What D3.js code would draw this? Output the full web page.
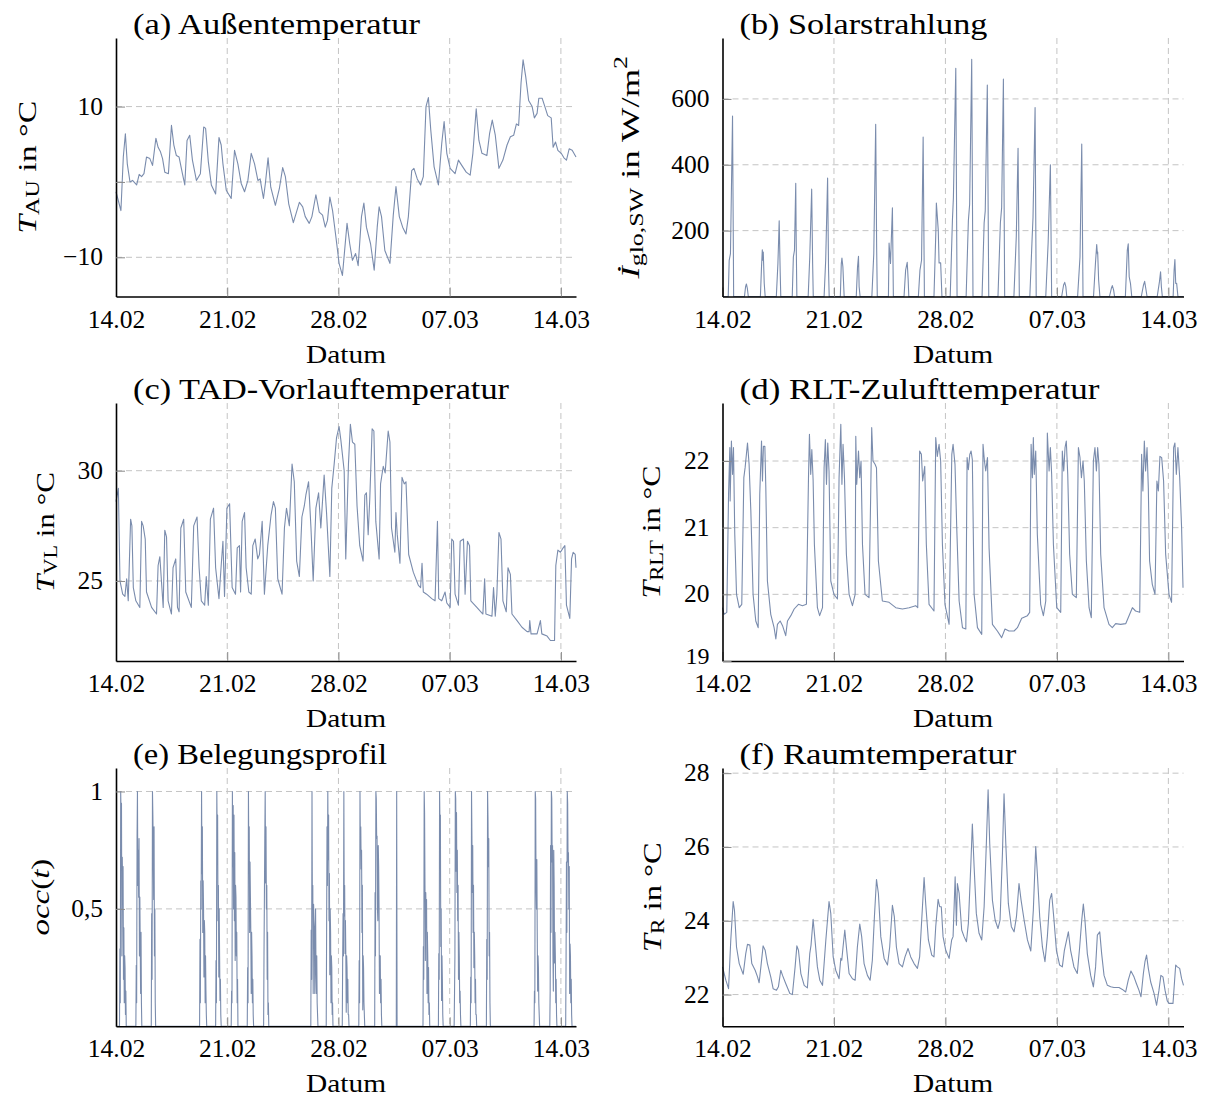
<!DOCTYPE html>
<html><head><meta charset="utf-8">
<script src="https://cdn.jsdelivr.net/npm/d3@7"></script>
<style>
body{margin:0;background:#fff}
text{font-family:"Liberation Serif","Times New Roman",serif;fill:#000}
</style>
</head><body>
<svg id="chart" width="1208" height="1097"></svg>
<script>
// ---------------- data (day offset from 14.02 00:00, value) ----------------
const dateTicks = [0, 7, 14, 21, 28];
const dateLabels = ["14.02", "21.02", "28.02", "07.03", "14.03"];
const xDomain = [0, 28.95];

const tempOutside = [[0,-1.3],[0.31,-3.8],[0.46,3.3],[0.59,6.4],[0.71,2.4],[0.88,0],[1.04,0.2],[1.3,-0.4],[1.46,1.0],[1.61,0.7],[1.76,1.1],[1.92,3.3],[2.13,3.1],[2.3,2.2],[2.51,5.8],[2.65,4.6],[2.8,4.0],[2.93,3.1],[3.07,1.3],[3.3,1.1],[3.49,7.5],[3.64,4.9],[3.8,3.5],[3.97,3.3],[4.18,1.1],[4.33,-0.4],[4.47,5.5],[4.64,6.2],[4.81,2.9],[5.06,0.2],[5.31,1.1],[5.52,7.3],[5.64,7.1],[5.81,2.7],[6.0,-0.4],[6.27,-1.6],[6.48,5.9],[6.62,4.9],[6.73,2.4],[6.94,-1.1],[7.25,-2.2],[7.46,4.2],[7.67,2.4],[7.88,-0.2],[8.09,-1.3],[8.3,0.2],[8.51,3.8],[8.72,2.4],[8.93,0.2],[9.07,0.4],[9.28,-2.2],[9.4,-0.2],[9.57,3.2],[9.74,-0.7],[10.03,-3.1],[10.28,-0.9],[10.49,1.9],[10.66,0.7],[10.87,-2.9],[11.16,-5.4],[11.33,-4.2],[11.54,-2.7],[11.75,-3.3],[11.91,-4.6],[12.16,-5.5],[12.33,-4.6],[12.58,-1.7],[12.79,-4.0],[13.0,-4.4],[13.17,-6.0],[13.31,-5.1],[13.46,-2.0],[13.63,-3.8],[13.84,-7.3],[14.04,-10.8],[14.25,-12.4],[14.54,-5.5],[14.71,-8.2],[14.88,-10.4],[15.08,-9.5],[15.24,-11.1],[15.45,-4.6],[15.6,-2.8],[15.76,-6.0],[16.02,-8.2],[16.25,-11.7],[16.44,-6.0],[16.56,-3.3],[16.71,-4.6],[16.92,-9.1],[17.24,-10.8],[17.45,-4.4],[17.62,-0.6],[17.83,-4.6],[18.04,-6.0],[18.25,-6.9],[18.4,-4.6],[18.61,1.5],[18.75,1.8],[18.96,0.4],[19.17,-0.4],[19.34,0.7],[19.51,10.0],[19.66,11.2],[19.81,6.9],[20.02,2.0],[20.29,-0.4],[20.5,5.1],[20.65,8.0],[20.82,3.8],[21.03,1.8],[21.34,1.1],[21.55,2.9],[21.76,2.2],[22.04,1.3],[22.29,0.9],[22.46,3.8],[22.67,9.7],[22.84,5.5],[23.03,3.8],[23.34,3.5],[23.51,6.4],[23.68,8.2],[23.87,6.2],[24.1,1.8],[24.35,2.9],[24.61,4.9],[24.82,6.0],[25.03,6.2],[25.2,7.7],[25.34,7.5],[25.49,13.1],[25.62,16.2],[25.79,13.9],[25.97,10.8],[26.19,10.0],[26.33,8.5],[26.5,9.1],[26.61,11.1],[26.82,11.1],[26.96,10.2],[27.17,8.8],[27.39,8.5],[27.51,4.6],[27.66,5.3],[27.81,4.2],[28.02,3.8],[28.19,3.2],[28.35,2.9],[28.52,4.4],[28.71,4.2],[28.95,3.3]];

const solarRadiation = [[0,0],[0.36,0],[0.42,110],[0.5,130],[0.63,548],[0.7,0],[1.38,0],[1.45,30],[1.5,38],[1.56,25],[1.62,0],[2.38,0],[2.45,90],[2.5,142],[2.53,110],[2.56,135],[2.62,40],[2.68,0],[3.38,0],[3.48,100],[3.56,230],[3.62,80],[3.66,0],[4.38,0],[4.45,120],[4.52,140],[4.6,344],[4.63,160],[4.67,0],[5.38,0],[5.48,120],[5.6,326],[5.66,100],[5.7,0],[6.38,0],[6.48,110],[6.6,360],[6.66,80],[6.7,0],[7.4,0],[7.46,100],[7.5,117],[7.56,90],[7.64,0],[8.4,0],[8.48,90],[8.54,122],[8.58,30],[8.64,0],[9.38,0],[9.5,130],[9.62,523],[9.68,150],[9.72,0],[10.42,0],[10.46,162],[10.55,100],[10.67,269],[10.73,0],[11.4,0],[11.5,80],[11.6,104],[11.66,50],[11.7,0],[12.3,0],[12.4,80],[12.5,110],[12.6,484],[12.68,0],[13.28,0],[13.4,200],[13.43,284],[13.49,243],[13.55,200],[13.6,102],[13.7,102],[13.78,0],[14.3,0],[14.44,233],[14.5,300],[14.65,693],[14.73,0],[15.3,0],[15.44,230],[15.52,280],[15.65,720],[15.73,0],[16.3,0],[16.43,223],[16.5,260],[16.63,642],[16.72,0],[17.3,0],[17.45,223],[17.53,270],[17.64,660],[17.72,0],[18.3,0],[18.45,183],[18.56,450],[18.64,0],[19.3,0],[19.44,172],[19.5,240],[19.63,574],[19.7,0],[20.3,0],[20.45,163],[20.59,400],[20.67,0],[21.3,0],[21.42,35],[21.49,43],[21.56,30],[21.62,0],[22.3,0],[22.45,120],[22.56,463],[22.64,0],[23.3,0],[23.42,100],[23.5,158],[23.54,130],[23.56,135],[23.62,50],[23.7,0],[24.3,0],[24.42,25],[24.48,33],[24.56,20],[24.62,0],[25.3,0],[25.42,140],[25.48,160],[25.54,60],[25.62,40],[25.7,0],[26.3,0],[26.44,35],[26.51,46],[26.58,25],[26.66,0],[27.3,0],[27.44,45],[27.51,75],[27.56,30],[27.62,0],[28.3,0],[28.36,80],[28.41,112],[28.46,40],[28.52,40],[28.6,0],[28.95,0]];

const supplyTempTAD = [[0,28.6],[0.15,29.2],[0.25,25.0],[0.42,24.4],[0.56,24.3],[0.67,25.1],[0.77,24.1],[0.92,27.8],[1.0,27.5],[1.09,24.7],[1.25,24.1],[1.5,23.8],[1.61,27.7],[1.71,27.5],[1.84,26.9],[1.92,24.5],[2.24,23.8],[2.55,23.5],[2.65,25.7],[2.76,26.1],[2.86,25.0],[2.97,23.8],[3.07,27.3],[3.18,27.0],[3.28,24.1],[3.49,23.5],[3.59,25.6],[3.76,26.0],[3.87,23.8],[3.97,23.6],[4.08,27.4],[4.26,27.8],[4.39,24.5],[4.74,23.8],[4.89,27.5],[5.1,27.9],[5.23,25.6],[5.37,24.1],[5.58,23.9],[5.68,25.2],[5.81,23.9],[5.94,27.8],[6.14,28.3],[6.27,25.6],[6.48,24.2],[6.62,25.7],[6.73,26.8],[6.83,24.3],[6.98,28.3],[7.15,28.5],[7.31,24.7],[7.52,24.4],[7.63,26.5],[7.77,26.6],[7.84,24.5],[7.94,27.7],[8.09,28.1],[8.19,25.6],[8.36,24.5],[8.51,24.4],[8.61,26.6],[8.76,26.9],[8.92,26.0],[9.03,26.2],[9.2,27.7],[9.34,24.4],[9.55,26.6],[9.76,28.0],[9.91,28.6],[10.03,28.3],[10.18,25.1],[10.45,24.4],[10.6,27.4],[10.73,28.3],[10.91,27.5],[11.08,30.3],[11.22,29.5],[11.37,25.9],[11.54,25.2],[11.7,27.9],[11.85,28.4],[11.95,28.9],[12.12,29.5],[12.27,27.4],[12.41,25.0],[12.58,28.3],[12.75,29.0],[12.89,27.4],[13.1,29.8],[13.25,28.1],[13.46,25.2],[13.58,29.2],[13.73,30.3],[13.88,31.5],[14.04,32.0],[14.15,31.4],[14.36,30.0],[14.46,26.0],[14.63,30.3],[14.75,32.1],[14.88,31.3],[15.03,31.2],[15.17,28.4],[15.34,26.6],[15.55,25.9],[15.66,28.9],[15.76,29.0],[15.87,27.1],[15.97,28.7],[16.12,31.9],[16.23,31.8],[16.35,27.7],[16.56,26.0],[16.65,29.4],[16.82,30.2],[16.94,29.9],[17.13,31.8],[17.24,31.3],[17.34,27.4],[17.55,26.3],[17.62,28.1],[17.7,27.1],[17.87,25.8],[18.0,29.7],[18.14,29.4],[18.25,29.5],[18.42,26.2],[18.71,25.4],[19.03,24.8],[19.17,24.7],[19.26,25.8],[19.34,24.5],[19.55,24.4],[19.87,24.2],[20.08,24.1],[20.23,27.7],[20.31,24.2],[20.5,24.1],[20.71,24.5],[20.82,24.0],[21.03,23.8],[21.13,26.9],[21.24,26.8],[21.34,24.4],[21.55,23.9],[21.66,26.8],[21.87,26.9],[21.97,24.4],[22.12,26.8],[22.25,26.6],[22.33,24.1],[22.71,23.8],[23.09,23.5],[23.2,25.1],[23.28,23.5],[23.66,23.4],[23.76,24.7],[23.87,23.4],[23.97,24.4],[24.1,27.2],[24.23,26.9],[24.35,24.1],[24.56,23.6],[24.67,25.6],[24.82,25.3],[24.92,23.5],[25.24,23.2],[25.55,22.9],[25.87,22.7],[26.0,22.7],[26.04,23.2],[26.12,22.6],[26.5,22.6],[26.71,23.2],[26.8,22.6],[27.13,22.5],[27.34,22.3],[27.6,22.3],[27.68,25.7],[27.81,26.4],[27.97,26.3],[28.14,26.5],[28.25,26.6],[28.35,23.9],[28.56,23.3],[28.67,26.0],[28.77,26.3],[28.9,26.2],[28.95,25.6]];

const supplyTempRLT = [[0,19.8],[0.1,19.7],[0.27,19.73],[0.38,21.5],[0.46,22.2],[0.48,21.4],[0.56,22.3],[0.63,21.8],[0.69,22.2],[0.77,20.9],[0.88,20.0],[1.05,19.8],[1.21,19.85],[1.34,21.75],[1.42,21.9],[1.57,22.27],[1.67,21.95],[1.78,21.25],[1.92,20.0],[2.09,19.6],[2.24,19.5],[2.34,21.5],[2.45,22.3],[2.51,21.7],[2.57,22.22],[2.66,22.22],[2.72,21.6],[2.82,20.2],[3.03,19.7],[3.24,19.5],[3.35,19.33],[3.45,19.55],[3.62,19.6],[3.77,19.53],[3.97,19.38],[4.08,19.6],[4.29,19.68],[4.5,19.78],[4.77,19.85],[5.02,19.83],[5.27,19.85],[5.4,21.75],[5.46,22.4],[5.54,21.8],[5.61,22.17],[5.69,21.72],[5.77,20.75],[5.96,19.8],[6.1,19.68],[6.28,19.8],[6.38,21.9],[6.46,22.32],[6.53,21.65],[6.61,22.27],[6.69,21.85],[6.8,20.2],[7.0,20.0],[7.22,19.93],[7.32,21.75],[7.43,22.55],[7.5,21.65],[7.57,22.25],[7.66,21.75],[7.78,20.6],[7.95,20.0],[8.16,19.83],[8.33,20.0],[8.37,22.37],[8.43,21.65],[8.54,22.15],[8.62,21.75],[8.7,22.0],[8.79,20.75],[8.95,20.0],[9.2,19.95],[9.31,21.55],[9.37,22.5],[9.45,22.0],[9.58,21.95],[9.67,21.9],[9.79,20.5],[10.04,19.9],[10.46,19.88],[10.88,19.8],[11.3,19.78],[11.72,19.8],[12.13,19.83],[12.26,19.8],[12.38,22.15],[12.49,22.1],[12.57,21.7],[12.7,21.92],[12.8,20.75],[12.97,19.85],[13.28,19.75],[13.39,22.35],[13.49,22.07],[13.6,22.25],[13.7,22.0],[13.81,20.75],[13.97,19.85],[14.23,19.55],[14.4,22.1],[14.48,22.25],[14.6,21.95],[14.71,21.0],[14.86,19.9],[15.07,19.5],[15.28,19.48],[15.36,22.05],[15.44,21.87],[15.53,22.1],[15.61,22.15],[15.69,22.02],[15.8,20.0],[16.01,19.5],[16.28,19.4],[16.36,22.25],[16.45,22.0],[16.53,21.85],[16.64,22.05],[16.74,20.7],[16.95,19.55],[17.26,19.45],[17.53,19.35],[17.74,19.48],[17.99,19.45],[18.31,19.45],[18.52,19.5],[18.79,19.64],[19.15,19.68],[19.29,19.73],[19.38,22.25],[19.46,21.75],[19.52,22.35],[19.58,21.8],[19.67,22.15],[19.77,20.9],[19.98,19.85],[20.15,19.68],[20.3,19.9],[20.4,22.42],[20.51,21.85],[20.59,22.2],[20.67,21.8],[20.78,20.75],[20.99,19.8],[21.24,19.73],[21.34,22.15],[21.43,21.85],[21.51,22.2],[21.59,22.3],[21.68,21.8],[21.8,20.6],[21.97,20.0],[22.22,19.95],[22.35,22.2],[22.45,22.05],[22.54,21.75],[22.64,22.0],[22.72,21.7],[22.85,20.5],[23.02,19.8],[23.16,19.65],[23.29,22.0],[23.39,22.2],[23.48,21.85],[23.56,22.2],[23.64,21.95],[23.75,20.6],[23.96,19.8],[24.27,19.55],[24.48,19.5],[24.69,19.56],[25.0,19.55],[25.32,19.56],[25.53,19.68],[25.74,19.8],[25.94,19.75],[26.2,19.73],[26.32,22.1],[26.4,21.55],[26.49,22.3],[26.57,21.85],[26.66,22.2],[26.74,21.6],[26.82,20.5],[26.99,20.15],[27.16,20.0],[27.28,21.7],[27.37,21.55],[27.47,22.07],[27.58,22.05],[27.7,21.7],[27.83,20.6],[28.04,20.0],[28.2,19.88],[28.33,22.2],[28.41,22.27],[28.5,21.8],[28.6,22.2],[28.71,21.75],[28.83,21.0],[28.92,20.1]];

// occupancy: start day of each occupied block and the values read within it (sampled every occStep days)
const occStep = 0.025;
const occStarts = [0.22, 1.25, 2.22, 5.26, 6.27, 7.25, 8.26, 9.29, 12.26, 13.23, 14.24, 15.28, 16.28, 17.64, 19.32, 20.29, 21.28, 22.3, 23.31, 26.31, 27.3, 28.3];
const occValues = [
  [0,0.33,0.1,1,0.9,0.95,0.3,0.72,0.55,0.68,0.2,0.42,0.1,0.3,0.25,0.05,0.15,0],
  [0,0.26,0.1,0.8,1,0.6,0.75,0.55,0.8,0.3,0.55,0.35,0.14,0.4,0.1,0],
  [0,0.48,0.2,1,0.9,0.75,0.54,0.85,0.3,0.5,0.1,0],
  [0,0.37,0.1,0.62,0.5,1,0.65,0.85,0.4,0.62,0.5,0.21,0.45,0.4,0.1,0.3,0.15,0.05,0],
  [0,0.28,0.1,1,0.78,0.9,0.45,0.6,0.21,0.5,0.3,0.11,0.2,0.05,0],
  [0,0.15,0.1,1,0.68,0.94,0.5,0.9,0.45,0.74,0.28,0.6,0.55,0.3,0.4,0.1,0.2,0],
  [0,0.25,0.1,1,0.71,0.85,0.4,0.7,0.55,0.4,0.14,0.4,0.3,0.1,0.2,0.05,0],
  [0,0.31,0.55,0.8,1,0.61,0.85,0.5,0.6,0.2,0.4,0.05,0.1,0],
  [0,0.41,0.2,1,0.5,0.6,0.14,0.52,0.45,0.42,0.14,0.3,0.5,0.25,0.14,0.3,0.1,0.05,0,0],
  [0,0.4,0.85,0.6,1,0.71,0.9,0.45,0.65,0.22,0.5,0.4,0.1,0.3,0.25,0.05,0.1,0,0],
  [0,0.28,0.48,0.3,1,0.47,0.6,0.31,0.45,0.3,0.06,0.3,0.25,0.1,0.2,0.05,0.05,0,0],
  [0,0.28,0.1,1,0.78,0.85,0.67,0.75,0.4,0.6,0.07,0.3,0.25,0.1,0.05,0,0],
  [0,0.57,0.3,1,0.97,0.8,0.81,0.5,0.45,0.77,0.68,0.5,0.14,0.3,0.3,0.1,0.2,0.05,0,0,0],
  [0,1,0],
  [0,0.34,0.2,1,0.91,0.6,0.28,0.57,0.45,0.54,0.14,0.4,0.3,0.1,0.25,0.05,0.1,0,0,0],
  [0,0.31,0.2,1,0.85,0.9,0.34,0.5,0.11,0.3,0.2,0.05,0],
  [0,0.14,0.3,1,0.97,0.66,0.91,0.57,0.75,0.45,0.6,0.2,0.4,0.3,0.1,0.15,0.05,0,0],
  [0,0.21,0.1,1,0.81,0.57,0.77,0.4,0.6,0.25,0.4,0.3,0.1,0.2,0.05,0.05,0],
  [0,0.37,0.2,1,0.89,0.68,0.8,0.3,0.4,0.1,0],
  [0,0.15,0.1,1,0.97,0.6,0.5,0.71,0.4,0.15,0.3,0.25,0.1,0.05,0,0],
  [0,0.15,0.77,0.4,1,0.97,0.7,0.77,0.3,0.15,0.75,0.6,0.27,0.4,0.3,0.1,0.2,0.05,0,0,0],
  [0,0.28,0.7,0.4,1,0.95,0.7,0.74,0.5,0.68,0.14,0.35,0.3,0.1,0.2,0.05,0,0]
];

const roomTemp = [[0,22.75],[0.21,22.39],[0.38,22.16],[0.52,23.48],[0.67,24.52],[0.75,24.29],[0.88,23.29],[1.05,22.84],[1.3,22.55],[1.46,23.11],[1.57,23.36],[1.72,23.34],[1.84,22.84],[2.05,22.66],[2.2,22.48],[2.3,22.32],[2.41,22.75],[2.55,23.32],[2.68,23.2],[2.82,22.84],[3.03,22.48],[3.18,22.16],[3.39,22.12],[3.51,22.21],[3.66,22.66],[3.77,22.52],[3.97,22.3],[4.23,22.03],[4.39,22.0],[4.56,22.75],[4.67,23.32],[4.77,23.2],[4.92,22.57],[5.13,22.25],[5.33,22.18],[5.48,23.11],[5.56,23.34],[5.69,24.04],[5.79,23.57],[5.96,22.75],[6.11,22.39],[6.28,22.25],[6.49,23.48],[6.69,24.52],[6.8,24.2],[6.95,23.02],[7.11,22.66],[7.32,22.43],[7.43,22.98],[7.49,22.93],[7.57,23.29],[7.68,23.75],[7.78,23.29],[7.95,22.57],[8.16,22.43],[8.33,22.39],[8.47,23.29],[8.62,23.91],[8.74,23.57],[8.89,22.84],[9.1,22.52],[9.27,22.39],[9.41,22.93],[9.54,24.11],[9.67,25.12],[9.79,24.74],[9.94,23.57],[10.15,22.98],[10.36,22.8],[10.5,23.29],[10.67,24.42],[10.79,24.11],[10.92,23.29],[11.09,22.84],[11.3,22.75],[11.46,23.02],[11.65,23.25],[11.82,23.02],[12.03,22.84],[12.24,22.71],[12.38,23.02],[12.51,24.02],[12.66,25.17],[12.76,24.47],[12.93,23.48],[13.14,23.07],[13.28,23.02],[13.39,23.84],[13.54,24.58],[13.64,24.38],[13.74,24.38],[13.85,23.57],[14.02,23.2],[14.23,22.98],[14.39,23.48],[14.48,23.57],[14.61,25.19],[14.69,23.88],[14.75,25.01],[14.86,24.74],[15.02,23.75],[15.17,23.57],[15.32,23.43],[15.44,23.93],[15.59,25.47],[15.69,26.62],[15.8,25.47],[15.94,24.2],[16.11,23.66],[16.28,23.48],[16.43,24.38],[16.57,26.1],[16.68,27.55],[16.78,26.1],[16.95,24.56],[17.12,24.02],[17.3,23.79],[17.43,24.02],[17.58,25.83],[17.68,27.44],[17.79,26.1],[17.95,24.47],[18.14,23.84],[18.31,23.7],[18.46,24.11],[18.62,25.01],[18.75,24.56],[18.94,24.02],[19.15,23.48],[19.36,23.18],[19.52,24.29],[19.67,26.01],[19.77,25.29],[19.92,24.11],[20.09,23.29],[20.25,22.89],[20.4,23.57],[20.55,24.56],[20.67,24.74],[20.8,24.11],[20.97,23.2],[21.17,22.8],[21.34,22.75],[21.47,23.2],[21.72,23.7],[21.86,23.2],[22.07,22.75],[22.28,22.57],[22.43,23.29],[22.56,24.02],[22.66,24.45],[22.76,24.02],[22.91,23.11],[23.12,22.52],[23.29,22.21],[23.43,22.75],[23.54,23.61],[23.69,23.7],[23.81,23.11],[23.96,22.52],[24.17,22.25],[24.38,22.21],[24.58,22.19],[24.9,22.19],[25.11,22.14],[25.32,22.07],[25.48,22.39],[25.65,22.64],[25.84,22.48],[25.99,22.3],[26.15,22.12],[26.28,21.94],[26.43,22.57],[26.53,22.89],[26.63,23.07],[26.74,22.71],[26.89,22.34],[27.1,22.03],[27.26,21.71],[27.41,22.12],[27.53,22.52],[27.66,22.48],[27.79,22.12],[27.93,21.83],[28.04,21.76],[28.29,21.76],[28.46,22.8],[28.56,22.75],[28.71,22.71],[28.83,22.43],[28.95,22.25]];

// build the occupancy series (zero outside the occupied blocks)
const occupancy = [[0, 0]];
occStarts.forEach((s, b) => occValues[b].forEach((v, i) => occupancy.push([s + i * occStep, v])));
occupancy.push([xDomain[1], 0]);

// axis tick values / labels per panel
const gridA = [-10, 0, 10], ticksA = [-10, 0, 10], labelsA = ["\u221210", "", "10"];
const gridB = [200, 400, 600], ticksB = [200, 400, 600], labelsB = ["200", "400", "600"];
const gridC = [25, 30], ticksC = [25, 30], labelsC = ["25", "30"];
const gridD = [20, 21, 22], ticksD = [19, 20, 21, 22], labelsD = ["19", "20", "21", "22"];
const gridE = [0.5, 1], ticksE = [0.5, 1], labelsE = ["0,5", "1"];
const gridF = [22, 24, 26, 28], ticksF = [22, 24, 26, 28], labelsF = ["22", "24", "26", "28"];

const titles = ["(a) Au\u00dfentemperatur", "(b) Solarstrahlung", "(c) TAD-Vorlauftemperatur",
                "(d) RLT-Zulufttemperatur", "(e) Belegungsprofil", "(f) Raumtemperatur"];

// ---------------- layout ----------------
const L1 = 116, R1 = 576, L2 = 722.5, R2 = 1183.5;
const rows = [[38, 296.5], [403, 661], [768, 1026.3]];
const panels = [
  {title: titles[0], data: tempOutside, left: L1, right: R1, top: rows[0][0], bottom: rows[0][1], yDomain: [-15.2, 19.1], grid: gridA, ticks: ticksA, labels: labelsA, tw: 287,
   ylab: [{t: "T", i: 1}, {t: "AU", sub: 1}, {t: " in \u00b0C"}], ylx: 27, ylw: 133},
  {title: titles[1], data: solarRadiation, left: L2, right: R2, top: rows[0][0], bottom: rows[0][1], yDomain: [0, 785], grid: gridB, ticks: ticksB, labels: labelsB, tw: 248,
   ylab: [{t: "\u0130", i: 1}, {t: "glo,SW", sub: 1}, {t: " in W/m"}, {t: "2", sup: 1}], ylx: 630, ylw: 224},
  {title: titles[2], data: supplyTempTAD, left: L1, right: R1, top: rows[1][0], bottom: rows[1][1], yDomain: [21.37, 33.07], grid: gridC, ticks: ticksC, labels: labelsC, tw: 376,
   ylab: [{t: "T", i: 1}, {t: "VL", sub: 1}, {t: " in \u00b0C"}], ylx: 45, ylw: 120},
  {title: titles[3], data: supplyTempRLT, left: L2, right: R2, top: rows[1][0], bottom: rows[1][1], yDomain: [19, 22.87], grid: gridD, ticks: ticksD, labels: labelsD, tw: 360,
   ylab: [{t: "T", i: 1}, {t: "RLT", sub: 1}, {t: " in \u00b0C"}], ylx: 651, ylw: 133, lowLift: 5},
  {title: titles[4], data: occupancy, left: L1, right: R1, top: rows[2][0], bottom: rows[2][1], yDomain: [0, 1.1], grid: gridE, ticks: ticksE, labels: labelsE, tw: 254,
   ylab: [{t: "occ", i: 1}, {t: "("}, {t: "t", i: 1}, {t: ")"}], ylx: 40, ylw: 77},
  {title: titles[5], data: roomTemp, left: L2, right: R2, top: rows[2][0], bottom: rows[2][1], yDomain: [21.14, 28.14], grid: gridF, ticks: ticksF, labels: labelsF, tw: 277,
   ylab: [{t: "T", i: 1}, {t: "R", sub: 1}, {t: " in \u00b0C"}], ylx: 652, ylw: 110}
];

const lineColor = "#7a8cad";
const gridColor = "#c4c4c4";
const svg = d3.select("#chart");

function stretch(sel, target) {
  const w = sel.node().getBBox().width;
  return w > 0 ? target / w : 1;
}

panels.forEach(p => {
  const x = d3.scaleLinear().domain(xDomain).range([p.left, p.right]);
  const y = d3.scaleLinear().domain(p.yDomain).range([p.bottom, p.top]);
  const g = svg.append("g");

  // grid
  g.append("g").selectAll("line").data(dateTicks.filter(d => d > 0)).join("line")
    .attr("x1", d => x(d)).attr("x2", d => x(d)).attr("y1", p.top).attr("y2", p.bottom)
    .attr("stroke", gridColor).attr("stroke-width", 1).attr("stroke-dasharray", "6,4");
  g.append("g").selectAll("line").data(p.grid).join("line")
    .attr("x1", p.left).attr("x2", p.right).attr("y1", d => y(d)).attr("y2", d => y(d))
    .attr("stroke", gridColor).attr("stroke-width", 1).attr("stroke-dasharray", "6,4");

  // data
  g.append("path").datum(p.data)
    .attr("d", d3.line().x(d => x(d[0])).y(d => y(d[1])))
    .attr("fill", "none").attr("stroke", lineColor).attr("stroke-width", 1.1)
    .attr("stroke-linejoin", "round");

  // axes
  const ax = g.append("g").attr("transform", `translate(0,${p.bottom})`)
    .call(d3.axisBottom(x).tickValues(dateTicks).tickFormat((d, i) => dateLabels[i])
      .tickSizeInner(-9).tickSizeOuter(0).tickPadding(13));
  const ay = g.append("g").attr("transform", `translate(${p.left},0)`)
    .call(d3.axisLeft(y).tickValues(p.ticks).tickFormat((d, i) => p.labels[i])
      .tickSizeInner(-9).tickSizeOuter(0).tickPadding(13));
  [ax, ay].forEach(a => {
    a.attr("font-family", '"Liberation Serif", serif');
    a.select(".domain").attr("stroke", "#000").attr("stroke-width", 1.6);
    a.selectAll(".tick line").attr("stroke", "#8a8a8a").attr("stroke-width", 1);
    a.selectAll(".tick text").attr("font-size", 25.5)
      .style("font-family", '"Liberation Serif", serif').attr("fill", "#000");
  });
  ay.selectAll(".tick text").attr("dy", "0.3em");
  if (p.lowLift) {
    // lowest y label sits at the corner; lift it slightly clear of the date labels
    ay.selectAll(".tick text").filter(d => d === p.yDomain[0])
      .attr("y", -p.lowLift).attr("font-size", 24);
  }

  // x label
  const xl = g.append("text").attr("text-anchor", "middle").attr("font-size", 26).text("Datum");
  const sx = stretch(xl, 80);
  xl.attr("transform", `translate(${(p.left + p.right) / 2},${p.bottom + 66}) scale(${sx},1)`);

  // title
  const tt = g.append("text").attr("font-size", 30).text(p.title);
  const st = stretch(tt, p.tw);
  tt.attr("transform", `translate(${p.left + 17},${p.top - 4}) scale(${st},1)`);

  // y label
  const yl = g.append("text").attr("text-anchor", "middle").attr("font-size", 26)
    .attr("dominant-baseline", "central");
  let off = 0;
  p.ylab.forEach(part => {
    const ts = yl.append("tspan").text(part.t);
    if (part.i) ts.attr("font-style", "italic");
    let target = 0;
    if (part.sub) { target = 6; ts.attr("font-size", 18.5); }
    if (part.sup) { target = -10; ts.attr("font-size", 18.5); }
    if (target !== off) { ts.attr("dy", target - off); off = target; }
  });
  const sy = stretch(yl, p.ylw);
  const cy = (p.top + p.bottom) / 2;
  yl.attr("transform", `translate(${p.ylx},${cy}) rotate(-90) scale(${sy},1)`);
});
</script>
</body></html>
